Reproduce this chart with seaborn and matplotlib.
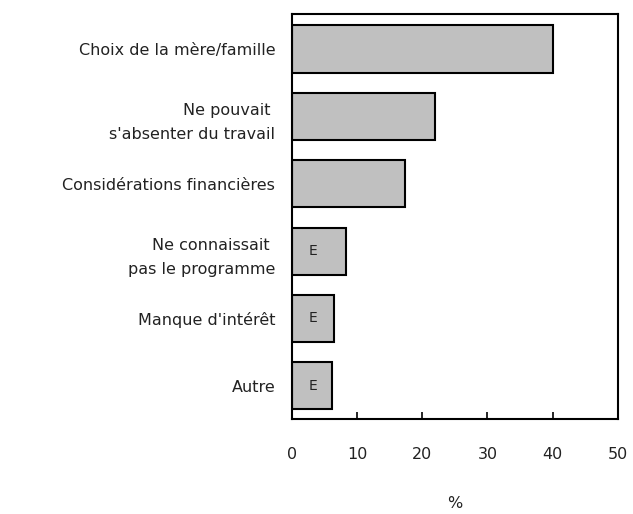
import matplotlib
matplotlib.use("Agg")
import matplotlib.pyplot as plt
import seaborn as sns
import pandas as pd

categories = [
    "Choix de la mère/famille",
    "Ne pouvait \ns'absenter du travail",
    "Considérations financières",
    "Ne connaissait \npas le programme",
    "Manque d'intérêt",
    "Autre",
]
values = [40.0, 21.9, 17.4, 8.3, 6.4, 6.2]
flags = ["", "", "", "E", "E", "E"]
xticks = [0, 10, 20, 30, 40, 50]


def main():
    sns.set_theme(style="white")
    plt.rcParams["font.family"] = ["DejaVu Sans"]

    df = pd.DataFrame({"cat": categories, "val": values, "flag": flags})

    fig = plt.figure(figsize=(6.33, 5.14), dpi=100)
    ax = fig.add_axes([0.461, 0.185, 0.515, 0.788])

    sns.barplot(data=df, x="val", y="cat", orient="h", color="#c0c0c0",
                saturation=1, edgecolor="black", linewidth=1.5, width=0.7, ax=ax)

    # "E" quality flags inside the small bars
    for i, f in enumerate(df["flag"]):
        if f:
            ax.text(3.3, i, f, ha="center", va="center", fontsize=10, color="#222222")

    ax.set_xlim(0, 50)
    ax.set_ylim(5.49, -0.52)
    ax.set_xticks(xticks)
    ax.set_xticklabels([str(t) for t in xticks], fontsize=11.5)
    ax.tick_params(axis="x", direction="in", length=5, width=1.2, pad=20,
                   bottom=True, colors="black", labelcolor="#222222")
    ax.tick_params(axis="y", left=False, pad=6)
    for lab in ax.get_yticklabels():
        lab.set_fontsize(11.5)
        lab.set_multialignment("right")
        lab.set_linespacing(1.8)
        lab.set_color("#222222")
    ax.set_ylabel("")
    ax.set_xlabel("%", fontsize=11.5, labelpad=25, color="#222222")

    for s in ax.spines.values():
        s.set_visible(True)
        s.set_color("black")
        s.set_linewidth(1.5)

    fig.savefig("out.png", dpi=100)
    plt.close(fig)


if __name__ == "__main__":
    main()
